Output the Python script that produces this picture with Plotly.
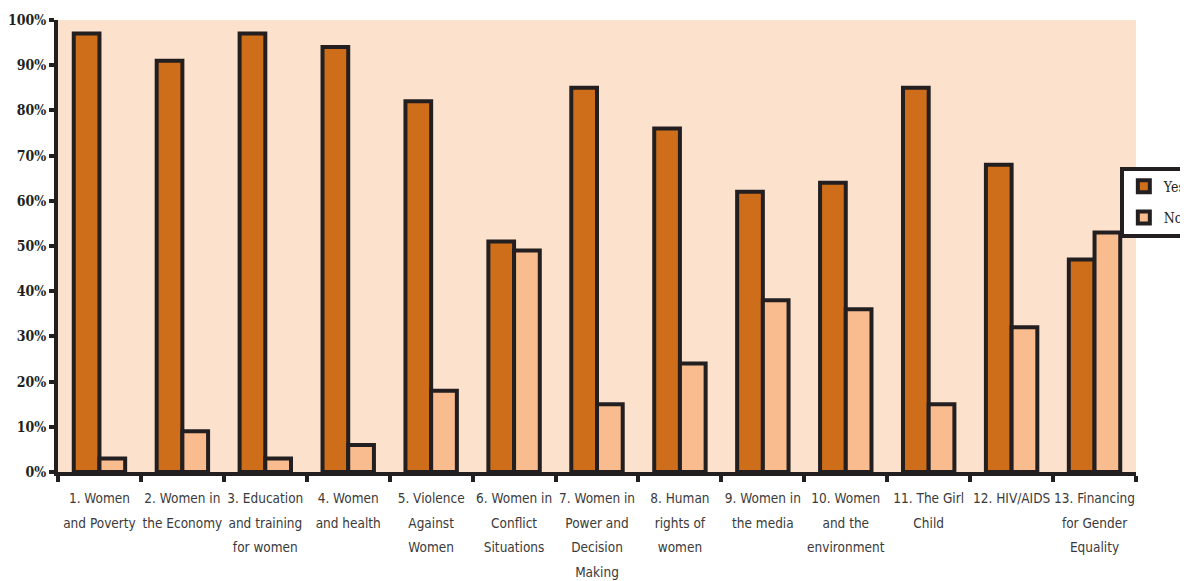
import plotly.graph_objects as go

categories = [
    "1. Women<br>and Poverty",
    "2. Women in<br>the Economy",
    "3. Education<br>and training<br>for women",
    "4. Women<br>and health",
    "5. Violence<br>Against<br>Women",
    "6. Women in<br>Conflict<br>Situations",
    "7. Women in<br>Power and<br>Decision<br>Making",
    "8. Human<br>rights of<br>women",
    "9. Women in<br>the media",
    "10. Women<br>and the<br>environment",
    "11. The Girl<br>Child",
    "12. HIV/AIDS",
    "13. Financing<br>for Gender<br>Equality",
]
yes_values = [97, 91, 97, 94, 82, 51, 85, 76, 62, 64, 85, 68, 47]
no_values = [3, 9, 3, 6, 18, 49, 15, 24, 38, 36, 15, 32, 53]
y_ticks = [0, 10, 20, 30, 40, 50, 60, 70, 80, 90, 100]

edge = "#231f20"

# smaller glyphs inside a taller line box (wider line spacing like the original)
tick_text = ["<br>".join(f"<span style='font-size:13.5px'>{part}</span>" for part in c.split("<br>"))
             for c in categories]

fig = go.Figure()
fig.add_trace(go.Bar(x=categories, y=yes_values, name="Yes", legendgroup="yes",
                     marker=dict(color="#CF6E1A", line=dict(color=edge, width=4))))
fig.add_trace(go.Bar(x=categories, y=no_values, name="No", legendgroup="no",
                     marker=dict(color="#F8BC8E", line=dict(color=edge, width=4))))

fig.update_layout(
    width=1180, height=573,
    margin=dict(l=50, r=52, t=12, b=109, autoexpand=False),
    paper_bgcolor="white",
    plot_bgcolor="#FCE2CC",
    barmode="group",
    bargap=0.38,
    bargroupgap=0,
    showlegend=True,
    legend=dict(x=0.985, xanchor="left", y=0.597, yanchor="middle",
                bordercolor=edge, borderwidth=4, bgcolor="white",
                font=dict(family="DejaVu Serif Condensed", size=14, color=edge),
                itemwidth=30, tracegroupgap=10),
    xaxis=dict(
        type="category",
        tickvals=categories,
        ticktext=tick_text,
        showline=True, linecolor=edge, linewidth=4,
        ticks="outside", tickson="boundaries", ticklen=6, tickwidth=4, tickcolor=edge,
        tickfont=dict(family="DejaVu Sans Condensed", size=19, color="#3a3a3a"),
        ticklabelstandoff=4,
        tickangle=0,
        showgrid=False,
        automargin=False,
    ),
    yaxis=dict(
        range=[0, 100],
        tickvals=y_ticks,
        ticktext=[f"{v}%" for v in y_ticks],
        showline=True, linecolor=edge, linewidth=4,
        ticks="outside", ticklen=5, tickwidth=4, tickcolor=edge,
        tickfont=dict(family="DejaVu Serif Condensed", size=14, color=edge, weight="bold"),
        showgrid=False, zeroline=False,
        automargin=False,
    ),
)

fig.write_html("out.html")
